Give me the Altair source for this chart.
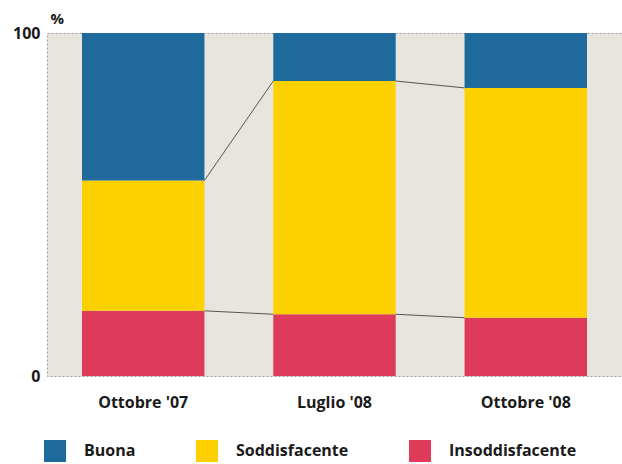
import altair as alt
import pandas as pd

periods = ["Ottobre '07", "Luglio '08", "Ottobre '08"]
categories = ["Buona", "Soddisfacente", "Insoddisfacente"]
insoddisfacente = [19, 18, 17]
soddisfacente = [38, 68, 67]
buona = [43, 14, 16]
colors = ["#1f6a9c", "#fdd000", "#de3a5a"]

rows = []
for i, p in enumerate(periods):
    rows.append({"period": p, "cat": "Insoddisfacente", "value": insoddisfacente[i], "ord": 0})
    rows.append({"period": p, "cat": "Soddisfacente", "value": soddisfacente[i], "ord": 1})
    rows.append({"period": p, "cat": "Buona", "value": buona[i], "ord": 2})
df = pd.DataFrame(rows)

links = []
for i in range(len(periods) - 1):
    c1a = insoddisfacente[i]
    c1b = insoddisfacente[i + 1]
    c2a = insoddisfacente[i] + soddisfacente[i]
    c2b = insoddisfacente[i + 1] + soddisfacente[i + 1]
    links.append({"period": periods[i], "next": periods[i + 1], "y": c1a, "y2": c1b})
    links.append({"period": periods[i], "next": periods[i + 1], "y": c2a, "y2": c2b})
ldf = pd.DataFrame(links)

FONT = "Open Sans"

xscale = alt.Scale(domain=periods, paddingInner=0.36, paddingOuter=0.183)
yscale = alt.Scale(domain=[0, 100], nice=False)

bars = alt.Chart(df).mark_bar(strokeWidth=0).encode(
    x=alt.X("period:N", scale=xscale, sort=periods,
            axis=alt.Axis(title=None, labelAngle=0, ticks=False, domain=False,
                          labelPadding=18, labelFontSize=16, labelFont=FONT,
                          labelFontWeight="bold", labelColor="#1a1a1a")),
    y=alt.Y("value:Q", stack="zero", scale=yscale,
            axis=alt.Axis(values=[0, 100], title="%", titleAngle=0, titleAlign="left",
                          titleX=3, titleY=-7, titleBaseline="bottom",
                          titleFont=FONT, titleFontSize=15, titleFontWeight="bold",
                          titleColor="#1a1a1a",
                          ticks=False, domain=False, grid=False, labelPadding=7,
                          labelFontSize=16, labelFont=FONT, labelFontWeight="bold",
                          labelColor="#1a1a1a")),
    color=alt.Color("cat:N", scale=alt.Scale(domain=categories, range=colors),
                    legend=alt.Legend(title=None, orient="none", direction="horizontal",
                                      legendX=-3, legendY=407, symbolType="square",
                                      symbolSize=484, symbolStrokeWidth=0,
                                      symbolOpacity=1, labelFontSize=16, labelFont=FONT,
                                      labelFontWeight="bold", labelColor="#1a1a1a",
                                      labelOffset=18, columnPadding=60, padding=0)),
    order=alt.Order("ord:Q"),
)

rules = alt.Chart(ldf).mark_rule(color="#555555", strokeWidth=1).encode(
    x=alt.X("period:N", scale=xscale, sort=periods, bandPosition=1),
    x2=alt.X2("next:N", bandPosition=0),
    y=alt.Y("y:Q", scale=yscale),
    y2="y2:Q",
)

chart = alt.layer(bars, rules).properties(
    width=575, height=343,
    background="white",
    autosize=alt.AutoSizeParams(type="none"),
    padding={"left": 47, "top": 33, "right": 0, "bottom": 88},
).configure_view(
    fill="#e8e5df", stroke="#9a9a9a", strokeDash=[2, 2], strokeWidth=1
)

chart.save("out.html", embed_options={"renderer": "svg", "actions": False})
